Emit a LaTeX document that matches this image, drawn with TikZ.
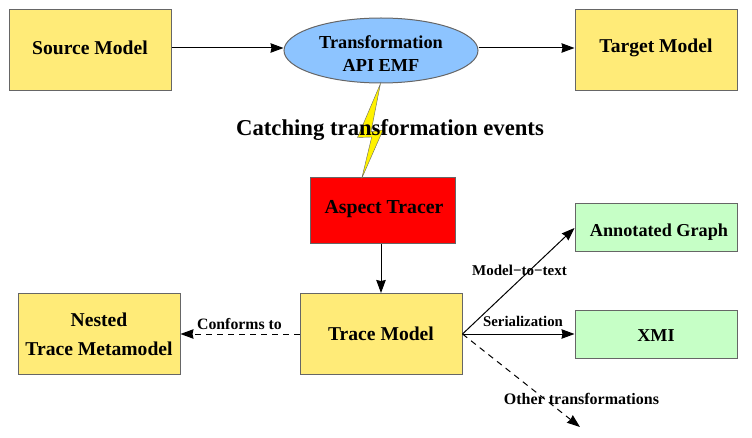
\documentclass[tikz,border=0pt]{standalone}
\usepackage{fontspec}
\setmainfont{Liberation Serif}
\usetikzlibrary{arrows.meta,shapes.geometric}
\definecolor{modelfill}{HTML}{FFEB78}
\definecolor{graphfill}{HTML}{C6FFC6}
\definecolor{apifill}{HTML}{8DC4FF}
\definecolor{edgegray}{HTML}{666666}
\newcommand{\shifted}[2]{\raisebox{#1}[\height][\depth]{#2}}
\tikzset{
    box/.style={draw=edgegray,line width=1pt,rectangle,inner sep=0pt,align=center,font=\fontsize{19.6}{29}\selectfont\bfseries},
    modelbox/.style={box,fill=modelfill,minimum width=162pt,minimum height=81pt},
    graphbox/.style={box,fill=graphfill,minimum width=162pt,minimum height=48pt,font=\fontsize{18.2}{24}\selectfont\bfseries},
    edgelabel/.style={inner sep=0pt,font=\fontsize{15}{18}\selectfont\bfseries},
    link/.style={->,line width=1pt,draw=black},
    dashlink/.style={link,dash pattern=on 6pt off 5pt}
}
\begin{document}
\begin{tikzpicture}[>={Stealth[length=13pt,width=9.5pt,inset=1pt]},x=1pt,y=-1pt]
    \useasboundingbox (0,0) rectangle (752,438);
    \node[modelbox]  (source) at (90,50)   {\shifted{2pt}{Source Model}};
    \node[modelbox]  (target) at (656,50)  {\shifted{2pt}{Target Model}};
    \node[ellipse,draw=edgegray,line width=1pt,fill=apifill,inner sep=0pt,minimum width=194pt,minimum height=65pt,align=center,font=\fontsize{18.3}{23}\selectfont\bfseries] (api) at (381,50.5) {\shifted{-3pt}{Transformation}\\\shifted{-3pt}{API EMF}};
    \node[box,fill=red,minimum width=145pt,minimum height=66pt,font=\fontsize{19.8}{24}\selectfont\bfseries] (aspect) at (382.5,211) {\hspace{3pt}\shifted{2pt}{Aspect Tracer}};
    \node[modelbox]  (trace) at (381,334) {Trace Model};
    \node[modelbox]  (nested) at (99,334) {Nested\\Trace Metamodel};
    \node[graphbox]  (graph) at (656,228)  {\hspace{6pt}\shifted{-4pt}{Annotated Graph}};
    \node[graphbox]  (xmi) at (656,334)    {\shifted{-2pt}{XMI}};
    \coordinate (other) at (580,427);
    \draw[link] ([yshift=2pt]source.east) to ([yshift=2.5pt]api.west);
    \draw[link] ([yshift=2.5pt]api.east) to ([yshift=2pt]target.west);
    \draw[link] (aspect.south -| trace) to (trace);
    \draw[dashlink] (trace) to (nested);
    \draw[link] (trace.east) to (graph.west);
    \draw[link] (trace.east) to (xmi.west);
    \draw[dashlink] (trace.east) to (other);
    % lightning between the ellipse and the red box
    \draw[draw=edgegray,fill=yellow] (380.5,83.5) -- (357.5,137.5) -- (371.7,137) -- (361.7,178.5) -- (383,130) -- (371,131.7) -- cycle;
    \node[inner sep=0pt,font=\fontsize{22.7}{26}\selectfont\bfseries] (catching) at (390,130) {Catching transformation events};
    \node[edgelabel,font=\fontsize{15.8}{18}\selectfont\bfseries] (conforms) at (239.5,324) {Conforms to};
    \node[edgelabel] (totext) at (519.5,270) {Model−to−text};
    \node[edgelabel,font=\fontsize{14.8}{18}\selectfont\bfseries] (serial) at (523,321) {Serialization};
    \node[edgelabel,font=\fontsize{16}{18}\selectfont\bfseries] (others) at (581.5,399) {Other transformations};
\end{tikzpicture}
\end{document}
